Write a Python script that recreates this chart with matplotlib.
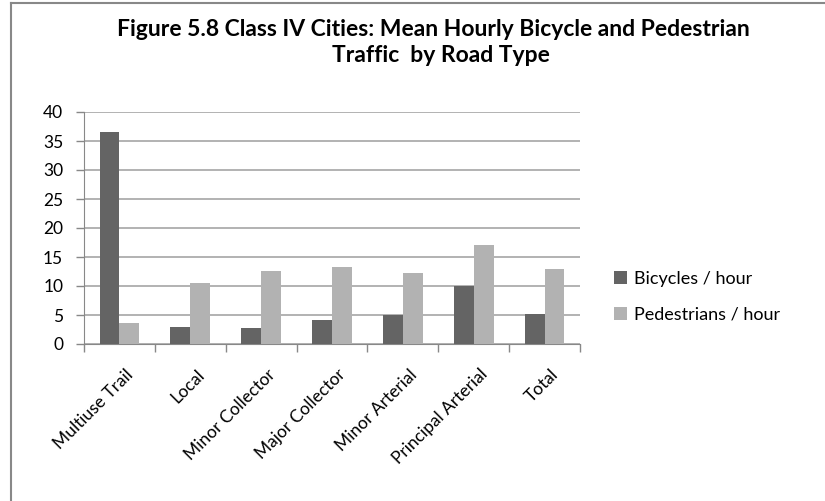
import matplotlib.pyplot as plt
import numpy as np
from matplotlib.lines import Line2D

plt.rcParams['font.family'] = ['Lato', 'DejaVu Sans']

# datos
road_types = ['Multiuse Trail', 'Local', 'Minor Collector', 'Major Collector',
              'Minor Arterial', 'Principal Arterial', 'Total']
bicycles = [36.5, 2.9, 2.7, 4.1, 5.0, 10.0, 5.2]
pedestrians = [3.6, 10.6, 12.6, 13.2, 12.2, 17.0, 12.9]

fig = plt.figure(figsize=(8.25, 5.01), dpi=100)
ax = fig.add_axes([84/825, 1 - 344/501, (580 - 84)/825, (344 - 112)/501])

x = np.arange(len(road_types))
w = 0.28
ax.bar(x - w/2, bicycles, width=w, color='#646464', label='Bicycles / hour', zorder=3)
ax.bar(x + w/2, pedestrians, width=w, color='#b2b2b2', label='Pedestrians / hour', zorder=3)

ax.set_xlim(-0.5, len(road_types) - 0.5)
ax.set_ylim(0, 40)
ax.set_yticks(range(0, 41, 5))
ax.tick_params(axis='y', labelsize=12.5, length=6, width=1, color='#888888', pad=9)
ax.yaxis.grid(True, color='#a6a6a6', lw=1.2, zorder=0)

# ticks del eje x en los limites de categoria
ax.set_xticks(np.arange(-0.5, len(road_types), 1), minor=False)
ax.set_xticklabels([])
ax.tick_params(axis='x', length=6, width=1, color='#888888')
ax.set_xticks(x + 0.08, minor=True)
ax.set_xticklabels(road_types, minor=True, rotation=45, ha='right',
                   rotation_mode='anchor', fontsize=12.5)
ax.tick_params(axis='x', which='minor', length=0, pad=16)

for s in ['top', 'right']:
    ax.spines[s].set_visible(False)
ax.spines['left'].set_color('#888888')
ax.spines['bottom'].set_color('#888888')

fig.text(433/825, 1 - 30/501, 'Figure 5.8 Class IV Cities: Mean Hourly Bicycle and Pedestrian',
         ha='center', va='center', fontsize=16.5, fontweight='bold')
fig.text(441/825, 1 - 56/501, 'Traffic  by Road Type',
         ha='center', va='center', fontsize=16.5, fontweight='bold')

fig.legend(loc='center left', bbox_to_anchor=(614/825, 1 - 297/501),
           frameon=False, fontsize=13, borderpad=0, borderaxespad=0,
           handlelength=0.7, handleheight=0.7, handletextpad=0.4, labelspacing=1.1)

# borde del grafico
fig.add_artist(Line2D([11/825, 11/825], [0, 1 - 3/501], color='#888888', lw=1.5,
                      transform=fig.transFigure))
fig.add_artist(Line2D([11/825, 1], [1 - 3/501, 1 - 3/501], color='#888888', lw=1.5,
                      transform=fig.transFigure))

plt.savefig('out.png', dpi=100)
